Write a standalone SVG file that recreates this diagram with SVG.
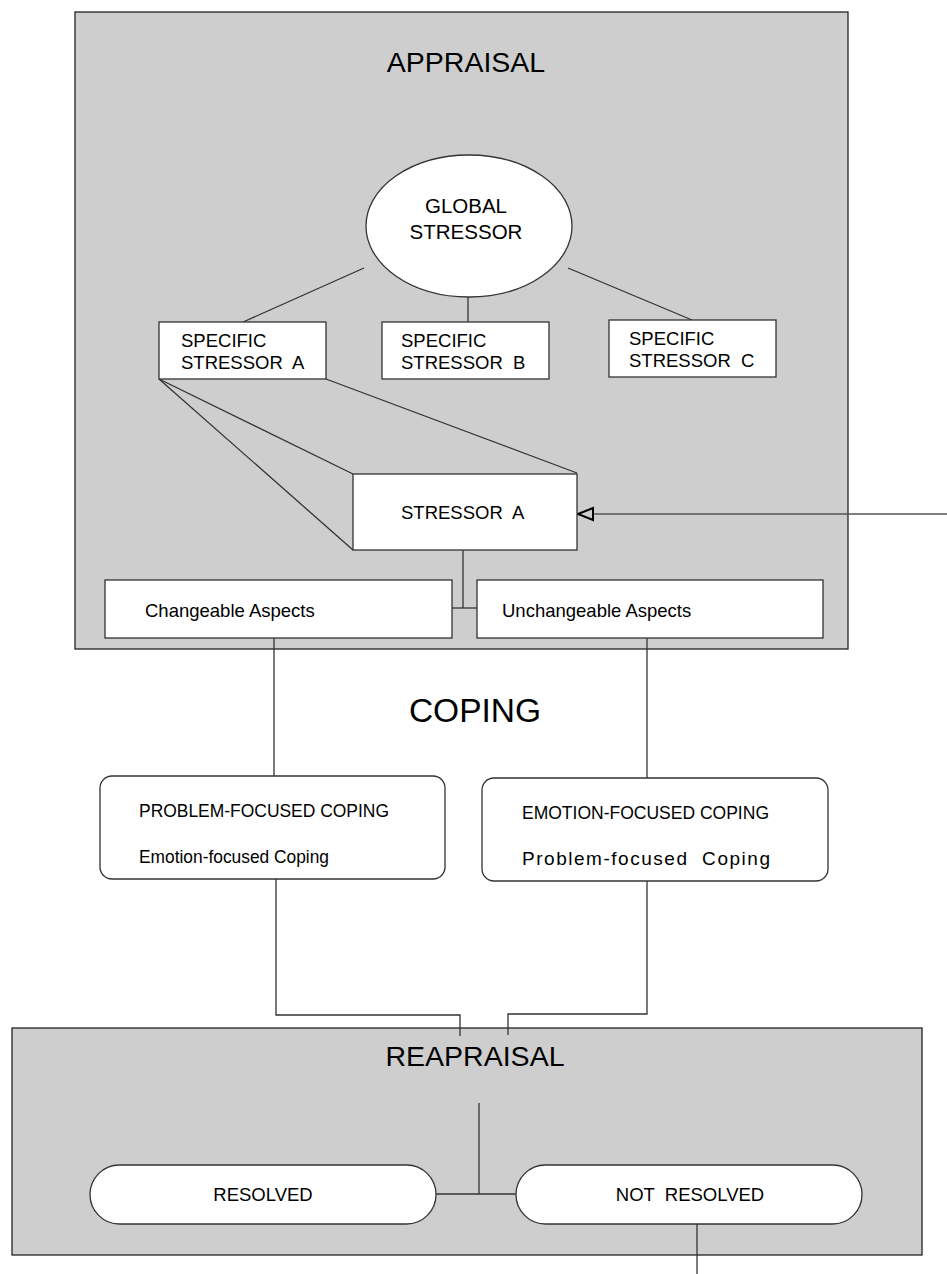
<svg xmlns="http://www.w3.org/2000/svg" width="947" height="1274" viewBox="0 0 947 1274">
<style>
  .panel { fill: #cecece; stroke: #222; stroke-width: 1.3; }
  .box { fill: #fff; stroke: #333; stroke-width: 1.3; }
  .ln { fill: none; stroke: #333; stroke-width: 1.3; }
  .arrowhead { fill: #cecece; stroke: #000; stroke-width: 2; stroke-linejoin: miter; }
  text { font-family: "Liberation Sans", Arial, sans-serif; fill: #000; }
  .title { font-size: 28.5px; text-anchor: middle; }
  .big { font-size: 33.5px; text-anchor: middle; }
  .lbl { font-size: 18.5px; }
  .ctr { text-anchor: middle; }
  .cop { font-size: 19px; }
</style>

<g id="appraisal">
  <rect class="panel" x="75" y="12" width="773" height="637"/>
  <text class="title" x="466" y="72">APPRAISAL</text>
</g>

<g id="reapraisal">
  <rect class="panel" x="12" y="1028" width="910" height="227"/>
  <text class="title" x="475" y="1066">REAPRAISAL</text>
</g>

<g id="connectors">
  <line class="ln" x1="364" y1="268" x2="243" y2="322"/>
  <line class="ln" x1="468" y1="297" x2="468" y2="322"/>
  <line class="ln" x1="568" y1="268" x2="692" y2="320"/>
  <line class="ln" x1="159" y1="379" x2="353" y2="474"/>
  <line class="ln" x1="159" y1="379" x2="353" y2="550"/>
  <line class="ln" x1="326" y1="379" x2="577" y2="473"/>
  <line x1="947" y1="514" x2="593" y2="514" stroke="#555" stroke-width="1.5"/>
  <polygon class="arrowhead" points="578,514 593,508 593,520"/>
  <polyline class="ln" points="463,550 463,608"/>
  <line class="ln" x1="452" y1="608" x2="477" y2="608"/>
  <line class="ln" x1="274" y1="638" x2="274" y2="776"/>
  <line class="ln" x1="647" y1="638" x2="647" y2="778"/>
  <polyline class="ln" points="276,879 276,1015 460,1015 460,1036"/>
  <polyline class="ln" points="647,881 647,1014 508,1014 508,1035"/>
  <line class="ln" x1="479" y1="1103" x2="479" y2="1194"/>
  <line class="ln" x1="436" y1="1194" x2="516" y2="1194"/>
  <line class="ln" x1="697" y1="1224" x2="697" y2="1274"/>
</g>

<g id="global-stressor">
  <ellipse class="box" cx="469" cy="226" rx="103" ry="71"/>
  <text class="ctr" x="466" y="213" font-size="20.5">GLOBAL</text>
  <text class="ctr" x="466" y="239" font-size="20.5">STRESSOR</text>
</g>

<g id="specific-a">
  <rect class="box" x="159" y="322" width="167" height="57"/>
  <text class="lbl" x="181" y="347">SPECIFIC</text>
  <text class="lbl" x="181" y="369" xml:space="preserve">STRESSOR  A</text>
</g>

<g id="specific-b">
  <rect class="box" x="382" y="322" width="167" height="57"/>
  <text class="lbl" x="401" y="347">SPECIFIC</text>
  <text class="lbl" x="401" y="369" xml:space="preserve">STRESSOR  B</text>
</g>

<g id="specific-c">
  <rect class="box" x="609" y="320" width="167" height="57"/>
  <text class="lbl" x="629" y="345">SPECIFIC</text>
  <text class="lbl" x="629" y="367" xml:space="preserve">STRESSOR  C</text>
</g>

<g id="stressor-a">
  <rect class="box" x="353" y="474" width="224" height="76"/>
  <text class="lbl" x="401" y="519" xml:space="preserve">STRESSOR  A</text>
</g>

<g id="changeable">
  <rect class="box" x="105" y="580" width="347" height="58"/>
  <text class="lbl" x="145" y="617">Changeable Aspects</text>
</g>

<g id="unchangeable">
  <rect class="box" x="477" y="580" width="346" height="58"/>
  <text class="lbl" x="502" y="617">Unchangeable Aspects</text>
</g>

<g id="coping-label">
  <text class="big" x="475" y="722">COPING</text>
</g>

<g id="problem-focused">
  <rect class="box" x="100" y="776" width="345" height="103" rx="12"/>
  <text class="cop" x="139" y="817" textLength="250" lengthAdjust="spacingAndGlyphs">PROBLEM-FOCUSED COPING</text>
  <text class="cop" x="139" y="863" textLength="190" lengthAdjust="spacingAndGlyphs">Emotion-focused Coping</text>
</g>

<g id="emotion-focused">
  <rect class="box" x="482" y="778" width="346" height="103" rx="12"/>
  <text class="cop" x="522" y="819" textLength="247" lengthAdjust="spacingAndGlyphs">EMOTION-FOCUSED COPING</text>
  <text class="cop" x="522" y="865" textLength="248" lengthAdjust="spacing" xml:space="preserve">Problem-focused  Coping</text>
</g>

<g id="resolved">
  <rect class="box" x="90" y="1165" width="346" height="59" rx="29.5"/>
  <text class="lbl ctr" x="263" y="1201">RESOLVED</text>
</g>

<g id="not-resolved">
  <rect class="box" x="516" y="1165" width="346" height="59" rx="29.5"/>
  <text class="lbl ctr" x="690" y="1201" xml:space="preserve">NOT  RESOLVED</text>
</g>
</svg>
